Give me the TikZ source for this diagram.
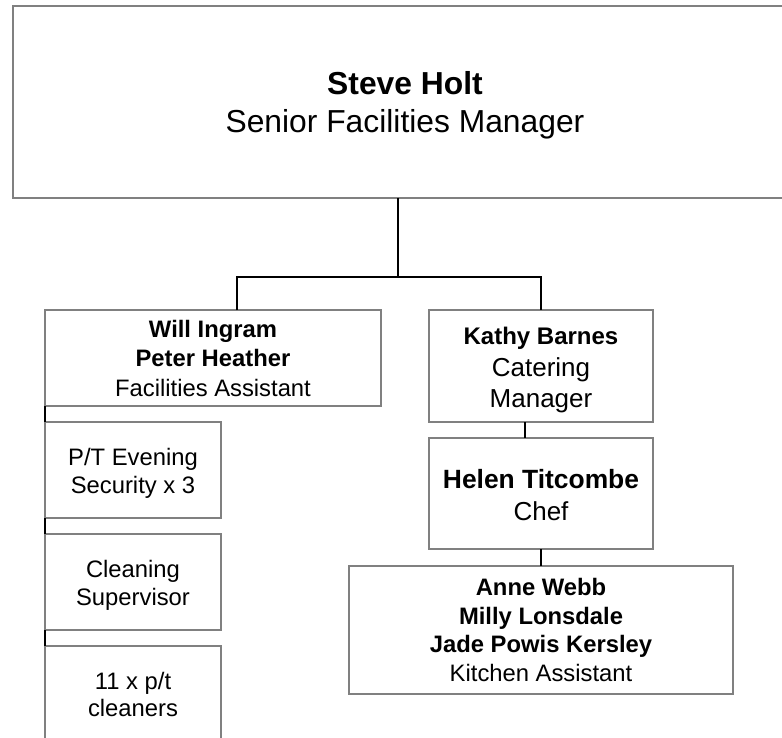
\documentclass[tikz,border=0pt]{standalone}
\usepackage{fontspec}
\setmainfont{Liberation Sans}
\definecolor{boxgray}{RGB}{128,128,128}
\begin{document}
\begin{tikzpicture}[x=1pt,y=-1pt,
  box/.style={draw=boxgray, line width=1.6pt, inner sep=0pt, outer sep=0pt},
  link/.style={draw=black, line width=1.6pt},
  tb/.style={anchor=base, inner sep=0pt, font=\fontsize{#1}{#1}\selectfont\bfseries},
  tr/.style={anchor=base, inner sep=0pt, font=\fontsize{#1}{#1}\selectfont}]
\useasboundingbox (0,0) rectangle (782,738);
\clip (0,0) rectangle (782,738);
\fill[white] (0,0) rectangle (782,738);

% boxes
\node[box, minimum width=786pt, minimum height=192pt] (top) at (406,102) {};
\node[box, minimum width=336pt, minimum height=96pt] (will) at (213,358) {};
\node[box, minimum width=176pt, minimum height=96pt] (pt) at (133,470) {};
\node[box, minimum width=176pt, minimum height=96pt] (clean) at (133,582) {};
\node[box, minimum width=176pt, minimum height=114pt] (cleaners) at (133,703) {};
\node[box, minimum width=224pt, minimum height=112pt] (kathy) at (541,366) {};
\node[box, minimum width=224pt, minimum height=111pt] (helen) at (541,493.5) {};
\node[box, minimum width=384pt, minimum height=128pt] (anne) at (541,630) {};

% connectors
\coordinate (j) at (398,277);
\draw[link] (top.south -| j) -- (j);
\draw[link] ([xshift=24pt]will.north) |- (kathy.north |- j) -- (kathy.north);
\draw[link] (will.south west) -- (pt.north west);
\draw[link] (pt.south west) -- (clean.north west);
\draw[link] (clean.south west) -- (cleaners.north west);
\draw[link] ([xshift=-16pt]kathy.south) -- ([xshift=-16pt]helen.north);
\draw[link] (helen.south) -- (anne.north);

% texts
\node[tb=31.8] (t1) at (405,95) {Steve Holt};
\node[tr=31.8] (t2) at (405,133) {Senior Facilities Manager};

\node[tb=23.8] (t3) at (213,337.7) {Will Ingram};
\node[tb=23.8] (t4) at (213,366.7) {Peter Heather};
\node[tr=23.8] (t5) at (213,396) {Facilities Assistant};

\node[tr=23.8] (t6) at (133,465.7) {P/T Evening};
\node[tr=23.8] (t7) at (133,493) {Security x 3};
\node[tr=23.8] (t8) at (133,577.3) {Cleaning};
\node[tr=23.8] (t9) at (133,605) {Supervisor};
\node[tr=23.8] (t10) at (133,689) {11 x p/t};
\node[tr=23.8] (t11) at (133,716.7) {cleaners};

\node[tb=24] (t12) at (541,344) {Kathy Barnes};
\node[tr=26] (t13) at (541,376) {Catering};
\node[tr=26] (t14) at (541,407.3) {Manager};

\node[tb=26.4] (t15) at (541,488) {Helen Titcombe};
\node[tr=26] (t16) at (541,520) {Chef};

\node[tb=23.8] (t17) at (541,595.7) {Anne Webb};
\node[tb=23.8] (t18) at (541,624.3) {Milly Lonsdale};
\node[tb=23.8] (t19) at (541,652.7) {Jade Powis Kersley};
\node[tr=23.8] (t20) at (541,681) {Kitchen Assistant};
\end{tikzpicture}
\end{document}
